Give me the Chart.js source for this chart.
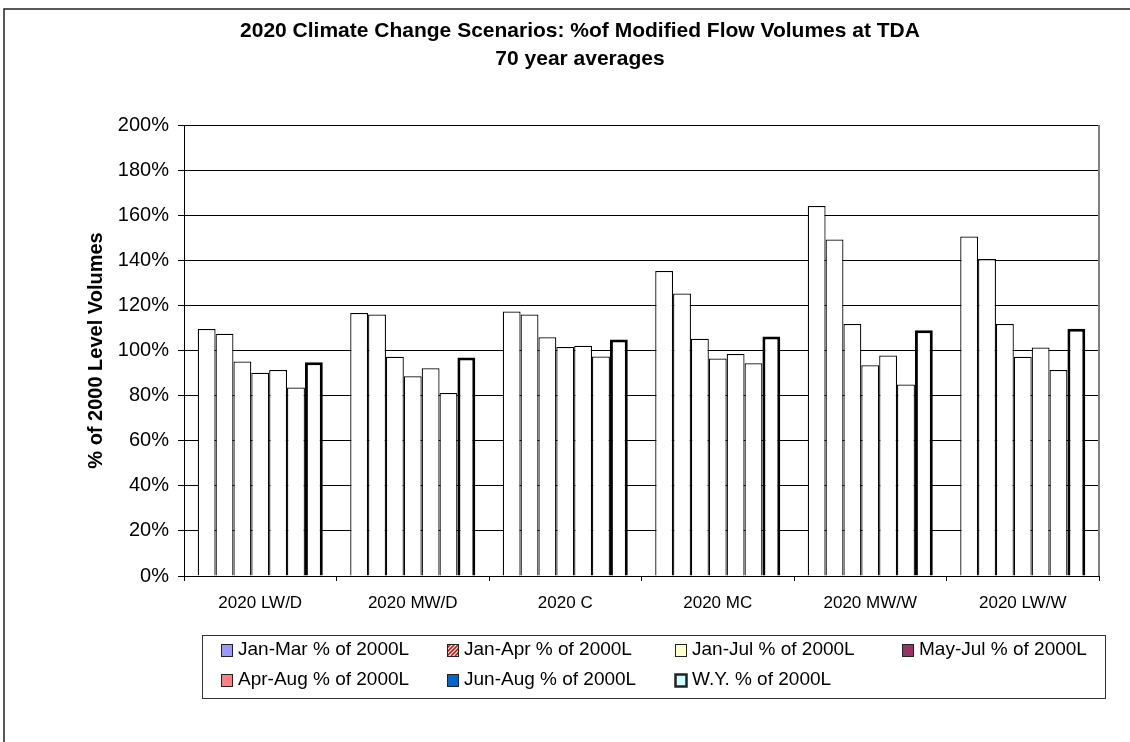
<!DOCTYPE html>
<html>
<head>
<meta charset="utf-8">
<title>2020 Climate Change Scenarios</title>
<script src="https://cdn.jsdelivr.net/npm/chart.js"></script>
<style>
    html, body { margin: 0; padding: 0; background: #fff; }
    #wrap { width: 1130px; height: 742px; }
</style>
</head>
<body>
<div id="wrap"><canvas id="flowChart" width="1130" height="742"></canvas></div>

<script>
    // data (percent of 2000 level)
    const categories = ['2020 LW/D', '2020 MW/D', '2020 C', '2020 MC', '2020 MW/W', '2020 LW/W'];
    const seriesNames = ['Jan-Mar % of 2000L', 'Jan-Apr % of 2000L', 'Jan-Jul % of 2000L', 'May-Jul % of 2000L',
                         'Apr-Aug % of 2000L', 'Jun-Aug % of 2000L', 'W.Y. % of 2000L'];
    const janMar = [109.5, 116.6, 117.3, 135.3, 164.1, 150.5];
    const janApr = [107.4, 116.0, 116.0, 125.3, 149.2, 140.6];
    const janJul = [95.1, 97.2, 105.9, 105.2, 111.7, 111.7];
    const mayJul = [90.1, 88.6, 101.5, 96.4, 93.5, 97.2];
    const aprAug = [91.4, 92.1, 102.1, 98.5, 97.8, 101.3];
    const junAug = [83.6, 81.2, 97.3, 94.4, 84.9, 91.4];
    const waterYear = [94.8, 96.9, 104.9, 106.2, 109.0, 109.6];
    const yTicks = [0, 20, 40, 60, 80, 100, 120, 140, 160, 180, 200];

    // legend swatch colours (bars themselves are drawn white in the reference)
    const swatchColors = ['#9999FF', 'hatch', '#FFFFCC', '#993366', '#FF8080', '#0066CC', '#CCFFFF'];

    const seriesValues = [janMar, janApr, janJul, mayJul, aprAug, junAug, waterYear];

    const datasets = seriesValues.map((vals, i) => ({
        label: seriesNames[i],
        data: vals,
        backgroundColor: '#ffffff',
        borderColor: '#000000',
        borderWidth: i === 6 ? 3 : 1.25,
        borderSkipped: 'start',
        barPercentage: 1.0,
        categoryPercentage: 0.82
    }));

    // title, outer frame, right plot border and legend box
    const decorPlugin = {
        id: 'decor',
        afterDraw(chart) {
            const ctx = chart.ctx;
            const area = chart.chartArea;
            ctx.save();

            // outer frame (runs off right and bottom edges)
            ctx.strokeStyle = '#222';
            ctx.lineWidth = 1.5;
            ctx.beginPath();
            ctx.moveTo(1130, 9);
            ctx.lineTo(4, 9);
            ctx.lineTo(4, 742);
            ctx.stroke();

            // plot area right border
            ctx.strokeStyle = '#808080';
            ctx.lineWidth = 2;
            ctx.beginPath();
            ctx.moveTo(area.right, area.top);
            ctx.lineTo(area.right, area.bottom);
            ctx.stroke();

            // title
            ctx.fillStyle = '#000';
            ctx.font = 'bold 21px "Liberation Sans", Arial, sans-serif';
            ctx.textAlign = 'center';
            ctx.textBaseline = 'middle';
            ctx.fillText('2020 Climate Change Scenarios: %of Modified Flow Volumes at TDA', 580, 31);
            ctx.fillText('70 year averages', 580, 59);

            // legend
            ctx.strokeStyle = '#333';
            ctx.lineWidth = 1;
            ctx.strokeRect(202.5, 635.5, 903, 63);

            const colX = [221, 447, 675, 902];
            const rowY = [650, 680];
            ctx.font = '19px "Liberation Sans", Arial, sans-serif';
            ctx.textAlign = 'left';
            seriesNames.forEach((name, i) => {
                const x = colX[i % 4];
                const y = rowY[Math.floor(i / 4)];
                const sx = x, sy = y - 6, sw = 11, sh = 12;
                if (swatchColors[i] === 'hatch') {
                    ctx.fillStyle = '#fff';
                    ctx.fillRect(sx, sy, sw, sh);
                    ctx.save();
                    ctx.beginPath();
                    ctx.rect(sx, sy, sw, sh);
                    ctx.clip();
                    ctx.strokeStyle = '#FF0000';
                    ctx.lineWidth = 1.6;
                    for (let k = -sh; k < sw + sh; k += 4) {
                        ctx.beginPath();
                        ctx.moveTo(sx + k, sy + sh);
                        ctx.lineTo(sx + k + sh, sy);
                        ctx.stroke();
                    }
                    ctx.restore();
                } else {
                    ctx.fillStyle = swatchColors[i];
                    ctx.fillRect(sx, sy, sw, sh);
                }
                ctx.strokeStyle = '#222';
                ctx.lineWidth = i === 6 ? 2.5 : 1;
                ctx.strokeRect(sx + 0.5, sy + 0.5, sw, sh);
                ctx.fillStyle = '#000';
                ctx.textBaseline = 'middle';
                ctx.fillText(name, x + 17, y);
            });

            ctx.restore();
        }
    };

    const ctx = document.getElementById('flowChart').getContext('2d');
    new Chart(ctx, {
        type: 'bar',
        data: { labels: categories, datasets: datasets },
        options: {
            responsive: false,
            animation: false,
            devicePixelRatio: 1,
            layout: { padding: { left: 80, top: 125, right: 31, bottom: 126 } },
            plugins: {
                legend: { display: false },
                title: { display: false },
                tooltip: { enabled: false }
            },
            scales: {
                x: {
                    offset: true,
                    grid: {
                        offset: true,
                        drawOnChartArea: false,
                        drawTicks: true,
                        tickLength: 5,
                        color: '#000'
                    },
                    border: { color: '#000', width: 1 },
                    ticks: {
                        color: '#000',
                        padding: 12,
                        maxRotation: 0,
                        font: { family: '"Liberation Sans", Arial, sans-serif', size: 17 }
                    },
                    afterFit(scale) { scale.height = 40; }
                },
                y: {
                    min: 0,
                    max: 200,
                    afterBuildTicks(scale) { scale.ticks = yTicks.map(v => ({ value: v })); },
                    grid: { color: '#000', lineWidth: 1, tickLength: 6 },
                    border: { color: '#000', width: 1 },
                    ticks: {
                        color: '#000',
                        padding: 9,
                        font: { family: '"Liberation Sans", Arial, sans-serif', size: 20 },
                        callback: v => v + '%'
                    },
                    title: {
                        display: true,
                        text: '% of 2000 Level Volumes',
                        color: '#000',
                        padding: { top: 4, bottom: 0 },
                        font: { family: '"Liberation Sans", Arial, sans-serif', size: 20, weight: 'bold' }
                    },
                    afterFit(scale) { scale.width = 104; }
                }
            }
        },
        plugins: [decorPlugin]
    });
</script>
</body>
</html>
